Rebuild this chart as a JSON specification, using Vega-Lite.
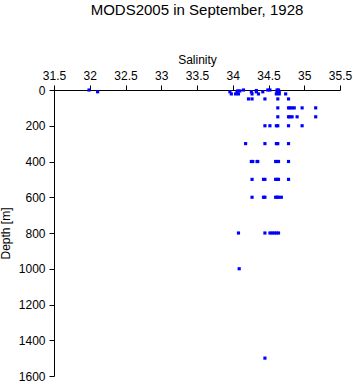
{
  "$schema": "https://vega.github.io/schema/vega-lite/v6.json",
  "autosize": "none",
  "width": 286,
  "height": 286,
  "padding": {"left": 54, "top": 90, "right": 13, "bottom": 8},
  "background": "white",
  "config": {"view": {"stroke": null}, "font": "Liberation Sans"},
  "title": {"text": "MODS2005 in September, 1928", "fontSize": 15, "fontWeight": "normal", "font": "Liberation Sans", "color": "black", "anchor": "middle", "offset": 35},
  "data": {"values": [
    {"s": 31.99, "d": 0}, {"s": 34.15, "d": 0}, {"s": 34.49, "d": 0}, {"s": 34.52, "d": 0}, {"s": 34.62, "d": 0}, {"s": 34.64, "d": 0},
    {"s": 34.07, "d": 5}, {"s": 34.1, "d": 5}, {"s": 34.33, "d": 3},
    {"s": 32.11, "d": 10}, {"s": 33.96, "d": 10}, {"s": 34.06, "d": 10}, {"s": 34.26, "d": 10}, {"s": 34.33, "d": 10}, {"s": 34.42, "d": 10}, {"s": 34.62, "d": 10}, {"s": 34.65, "d": 10},
    {"s": 33.98, "d": 22}, {"s": 34.04, "d": 22}, {"s": 34.08, "d": 22}, {"s": 34.27, "d": 22}, {"s": 34.36, "d": 22}, {"s": 34.61, "d": 22}, {"s": 34.65, "d": 22}, {"s": 34.74, "d": 22},
    {"s": 34.22, "d": 50}, {"s": 34.27, "d": 50}, {"s": 34.45, "d": 50}, {"s": 34.63, "d": 50}, {"s": 34.78, "d": 50},
    {"s": 34.63, "d": 100}, {"s": 34.78, "d": 100}, {"s": 34.8, "d": 100}, {"s": 34.83, "d": 100}, {"s": 34.86, "d": 100}, {"s": 34.97, "d": 100}, {"s": 35.16, "d": 100},
    {"s": 34.63, "d": 150}, {"s": 34.78, "d": 150}, {"s": 34.8, "d": 150}, {"s": 34.83, "d": 150}, {"s": 34.9, "d": 150}, {"s": 35.16, "d": 150},
    {"s": 34.45, "d": 200}, {"s": 34.52, "d": 200}, {"s": 34.61, "d": 200}, {"s": 34.63, "d": 200}, {"s": 34.78, "d": 200}, {"s": 34.97, "d": 200},
    {"s": 34.18, "d": 300}, {"s": 34.45, "d": 300}, {"s": 34.61, "d": 300}, {"s": 34.63, "d": 300}, {"s": 34.78, "d": 300},
    {"s": 34.26, "d": 400}, {"s": 34.28, "d": 400}, {"s": 34.34, "d": 400}, {"s": 34.35, "d": 400}, {"s": 34.6, "d": 400}, {"s": 34.62, "d": 400}, {"s": 34.64, "d": 400}, {"s": 34.78, "d": 400},
    {"s": 34.27, "d": 500}, {"s": 34.43, "d": 500}, {"s": 34.45, "d": 500}, {"s": 34.6, "d": 500}, {"s": 34.62, "d": 500}, {"s": 34.64, "d": 500}, {"s": 34.78, "d": 500},
    {"s": 34.27, "d": 600}, {"s": 34.43, "d": 600}, {"s": 34.45, "d": 600}, {"s": 34.6, "d": 600}, {"s": 34.62, "d": 600}, {"s": 34.64, "d": 600}, {"s": 34.68, "d": 600},
    {"s": 34.08, "d": 800}, {"s": 34.45, "d": 800}, {"s": 34.52, "d": 800}, {"s": 34.55, "d": 800}, {"s": 34.58, "d": 800}, {"s": 34.61, "d": 800}, {"s": 34.64, "d": 800},
    {"s": 34.09, "d": 1000},
    {"s": 34.45, "d": 1500}
  ]},
  "mark": {"type": "point", "shape": "square", "filled": true, "size": 10, "color": "#0000ff", "opacity": 1},
  "encoding": {
    "x": {"field": "s", "type": "quantitative", "title": "Salinity",
      "scale": {"domain": [31.5, 35.5], "nice": false, "zero": false},
      "axis": {"orient": "top", "values": [31.5, 32, 32.5, 33, 33.5, 34, 34.5, 35, 35.5], "format": "~g", "grid": false, "domainColor": "black", "tickColor": "black", "tickSize": 5, "labelFontSize": 12, "labelColor": "black", "labelPadding": 3, "labelFont": "Liberation Sans", "titleFont": "Liberation Sans", "titleFontSize": 12, "titleFontWeight": "normal", "titleColor": "black", "titlePadding": 3, "labelFlush": false}},
    "y": {"field": "d", "type": "quantitative", "title": "Depth [m]",
      "scale": {"domain": [0, 1600], "reverse": true, "nice": false},
      "axis": {"values": [0, 200, 400, 600, 800, 1000, 1200, 1400, 1600], "format": "d", "grid": false, "domainColor": "black", "tickColor": "black", "tickSize": 5, "labelFontSize": 12, "labelColor": "black", "labelPadding": 4, "labelFont": "Liberation Sans", "titleFont": "Liberation Sans", "titleFontSize": 12, "titleFontWeight": "normal", "titleColor": "black", "titlePadding": 6, "labelFlush": false}}
  }
}
